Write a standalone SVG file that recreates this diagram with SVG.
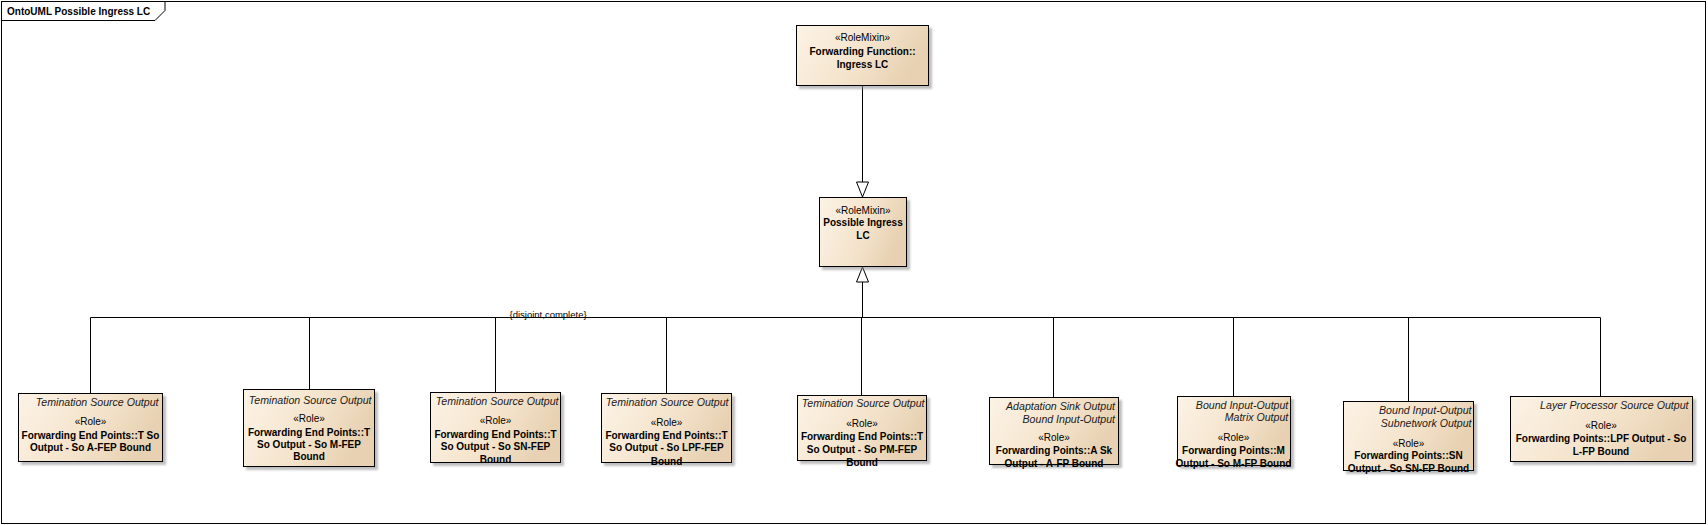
<svg xmlns="http://www.w3.org/2000/svg" width="1708" height="525" viewBox="0 0 1708 525">
<style>
text{font-family:"Liberation Sans",Arial,sans-serif;fill:#000}
.t{font-size:10px;font-weight:bold}
.s{font-size:10px;text-anchor:middle}
.b{font-size:10px;font-weight:bold;text-anchor:middle}
.i{font-size:10.6px;font-style:italic;text-anchor:end;fill:#1a1a1a}
.c{font-size:9.5px}
.box{fill:url(#g);stroke:#000;stroke-width:1}
.sh{fill:#8a8a8a;opacity:.55;filter:url(#blur)}
.ln{fill:none;stroke:#000;stroke-width:1}
.gen{fill:none;stroke:#000;stroke-width:1;marker-end:url(#tri)}
</style>
<defs>
<linearGradient id="g" x1="0" y1="0" x2="1" y2="0.3">
<stop offset="0" stop-color="#FCF3E6"/>
<stop offset="0.6" stop-color="#F4E3CB"/>
<stop offset="1" stop-color="#E7D1B2"/>
</linearGradient>
<filter id="blur" x="-10%" y="-10%" width="130%" height="130%"><feGaussianBlur stdDeviation="1.3"/></filter>
<marker id="tri" markerUnits="userSpaceOnUse" viewBox="-1 -1 17 14" markerWidth="17" markerHeight="14" refX="15" refY="6" orient="auto">
<path d="M0,0 L15,6 L0,12 Z" fill="#fff" stroke="#000" stroke-width="1"/>
</marker>
</defs>
<rect x="0" y="0" width="1708" height="525" fill="#fff"/>
<g id="frame">
<rect x="1.5" y="1.5" width="1704" height="522" fill="none" stroke="#000"/>
<path d="M1.5,20.5 H155 L165,10.5 V1.5" fill="none" stroke="#000"/>
<text class="t" x="7" y="14.6">OntoUML Possible Ingress LC</text>
</g>
<g id="connectors">
<path class="gen" d="M862.5,86 V197"/>
<path class="gen" d="M862.5,317.5 V267"/>
<path class="ln" d="M90.5,317.5 H1600.5 M90.5,317.5 V393 M309.5,317.5 V389 M495.5,317.5 V392 M666.5,317.5 V393 M861.5,317.5 V395 M1053.5,317.5 V397 M1233.5,317.5 V396 M1408.5,317.5 V401 M1600.5,317.5 V396"/>
<text class="c" x="509.5" y="318">{disjoint,complete}</text>
</g>
<g id="n_ingress_lc">
<rect class="sh" x="799" y="28" width="133" height="61"/>
<rect class="box" x="796.5" y="25.5" width="132" height="60"/>
<text class="s" x="862.5" y="41.3">«RoleMixin»</text>
<text class="b" x="862.5" y="55.3">Forwarding Function::</text>
<text class="b" x="862.5" y="67.8">Ingress LC</text>
</g>
<g id="n_possible_ingress_lc">
<rect class="sh" x="822" y="200" width="88" height="70"/>
<rect class="box" x="819.5" y="197.5" width="87" height="69"/>
<text class="s" x="863" y="213.6">«RoleMixin»</text>
<text class="b" x="863" y="226.3">Possible Ingress</text>
<text class="b" x="863" y="239">LC</text>
</g>
<g id="n_a_fep">
<rect class="sh" x="21" y="396" width="145" height="69"/>
<rect class="box" x="18.5" y="393.5" width="144" height="68"/>
<text class="i" x="158.5" y="406">Temination Source Output</text>
<text class="s" x="90.5" y="425">«Role»</text>
<text class="b" x="90.5" y="438.6">Forwarding End Points::T So</text>
<text class="b" x="90.5" y="450.8">Output - So A-FEP Bound</text>
</g>
<g id="n_m_fep">
<rect class="sh" x="246" y="392" width="132" height="78"/>
<rect class="box" x="243.5" y="389.5" width="131" height="77"/>
<text class="i" x="371.5" y="404.3">Temination Source Output</text>
<text class="s" x="309" y="422">«Role»</text>
<text class="b" x="309" y="436">Forwarding End Points::T</text>
<text class="b" x="309" y="448">So Output - So M-FEP</text>
<text class="b" x="309" y="460.3">Bound</text>
</g>
<g id="n_sn_fep">
<rect class="sh" x="433" y="395" width="131" height="71"/>
<rect class="box" x="430.5" y="392.5" width="130" height="70"/>
<text class="i" x="558.5" y="405.3">Temination Source Output</text>
<text class="s" x="495.5" y="424.3">«Role»</text>
<text class="b" x="495.5" y="438">Forwarding End Points::T</text>
<text class="b" x="495.5" y="450.3">So Output - So SN-FEP</text>
<text class="b" x="495.5" y="463">Bound</text>
</g>
<g id="n_lpf_fep">
<rect class="sh" x="604" y="396" width="131" height="70"/>
<rect class="box" x="601.5" y="393.5" width="130" height="69"/>
<text class="i" x="728.5" y="406.3">Temination Source Output</text>
<text class="s" x="666.5" y="426.3">«Role»</text>
<text class="b" x="666.5" y="439.3">Forwarding End Points::T</text>
<text class="b" x="666.5" y="451.3">So Output - So LPF-FEP</text>
<text class="b" x="666.5" y="464.6">Bound</text>
</g>
<g id="n_pm_fep">
<rect class="sh" x="800" y="398" width="130" height="66"/>
<rect class="box" x="797.5" y="395.5" width="129" height="65"/>
<text class="i" x="924.5" y="407.3">Temination Source Output</text>
<text class="s" x="862" y="427">«Role»</text>
<text class="b" x="862" y="440.3">Forwarding End Points::T</text>
<text class="b" x="862" y="453">So Output - So PM-FEP</text>
<text class="b" x="862" y="466">Bound</text>
</g>
<g id="n_a_fp">
<rect class="sh" x="992" y="400" width="130" height="68"/>
<rect class="box" x="989.5" y="397.5" width="129" height="67"/>
<text class="i" x="1115" y="409.6">Adaptation Sink Output</text>
<text class="i" x="1115" y="422.6">Bound Input-Output</text>
<text class="s" x="1054" y="441">«Role»</text>
<text class="b" x="1054" y="454.3">Forwarding Points::A Sk</text>
<text class="b" x="1054" y="467">Output - A-FP Bound</text>
</g>
<g id="n_m_fp">
<rect class="sh" x="1180" y="399" width="114" height="70"/>
<rect class="box" x="1177.5" y="396.5" width="113" height="69"/>
<text class="i" x="1288.3" y="408.6">Bound Input-Output</text>
<text class="i" x="1288.3" y="421.3">Matrix Output</text>
<text class="s" x="1233.5" y="440.6">«Role»</text>
<text class="b" x="1233.5" y="453.6">Forwarding Points::M</text>
<text class="b" x="1233.5" y="467">Output - So M-FP Bound</text>
</g>
<g id="n_sn_fp">
<rect class="sh" x="1346" y="404" width="131" height="70"/>
<rect class="box" x="1343.5" y="401.5" width="130" height="69"/>
<text class="i" x="1471.5" y="414">Bound Input-Output</text>
<text class="i" x="1471.5" y="427">Subnetwork Output</text>
<text class="s" x="1408.5" y="447">«Role»</text>
<text class="b" x="1408.5" y="459.3">Forwarding Points::SN</text>
<text class="b" x="1408.5" y="472.3">Output - So SN-FP Bound</text>
</g>
<g id="n_l_fp">
<rect class="sh" x="1513" y="399" width="183" height="66"/>
<rect class="box" x="1510.5" y="396.5" width="182" height="65"/>
<text class="i" x="1688.5" y="409">Layer Processor Source Output</text>
<text class="s" x="1601" y="428.6">«Role»</text>
<text class="b" x="1601" y="441.6">Forwarding Points::LPF Output - So</text>
<text class="b" x="1601" y="454.6">L-FP Bound</text>
</g>
</svg>
